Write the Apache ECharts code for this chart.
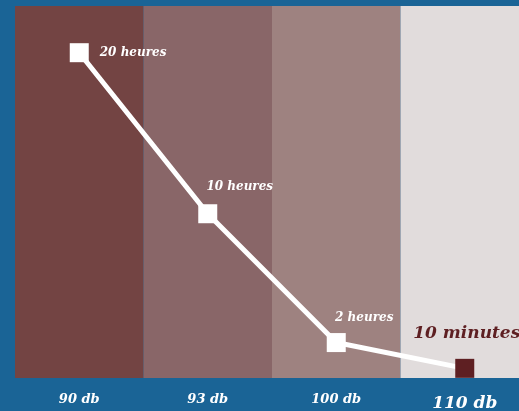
<!DOCTYPE html>
<html><head><meta charset="utf-8">
<script src="https://cdn.jsdelivr.net/npm/echarts@6/dist/echarts.min.js"></script>
<style>html,body{margin:0;padding:0;background:#1a6496;}#c{width:519px;height:411px;}</style>
</head><body><div id="c"></div>
<script>
const categories = ['90 db', '93 db', '100 db', '110 db'];
const hours = [20, 10, 2, 0.4];
const pointLabels = ['20 heures', '10 heures', '2 heures', '10 minutes'];
const bandColors = ['#734443', '#896668', '#9e8280', '#e1dcdc'];

const FONT = '"DejaVu Serif", serif';
const chart = echarts.init(document.getElementById('c'));
const labelPos = [
  {position: 'right', offset: [6, 0]},
  {position: 'top', offset: [32, -6]},
  {position: 'top', offset: [28, -4]},
  {position: 'top', offset: [2, -12]}
];
const data = hours.map((v, i) => {
  const last = i === hours.length - 1;
  return {
    value: v,
    itemStyle: {color: last ? '#5e1f22' : '#ffffff'},
    label: Object.assign({
      show: true,
      formatter: pointLabels[i],
      color: last ? '#5e1f22' : '#ffffff',
      fontFamily: FONT,
      fontStyle: 'italic',
      fontWeight: 'bold',
      fontSize: last ? 17 : 12
    }, labelPos[i])
  };
});
chart.setOption({
  backgroundColor: '#1a6496',
  animation: false,
  grid: {left: 15, width: 514, top: 6, height: 372, outerBoundsMode: 'none', containLabel: false},
  xAxis: {
    type: 'category',
    data: categories,
    boundaryGap: true,
    axisLine: {show: false},
    axisTick: {show: false},
    splitArea: {show: true, interval: 0, areaStyle: {color: bandColors, opacity: 1}},
    axisLabel: {
      margin: 15,
      color: '#ffffff',
      fontFamily: FONT,
      fontStyle: 'italic',
      fontWeight: 'bold',
      fontSize: 13,
      formatter: (v, i) => i === categories.length - 1 ? '{big|' + v + '}' : v,
      rich: {big: {fontSize: 17, fontFamily: FONT, fontStyle: 'italic', fontWeight: 'bold', color: '#ffffff', padding: [2, 0, 0, 0]}}
    }
  },
  yAxis: {
    type: 'value', min: -0.2, max: 22.9, show: false,
    splitLine: {show: false}
  },
  series: [{
    type: 'line',
    data: data,
    symbol: 'rect',
    symbolSize: 19,
    lineStyle: {color: '#ffffff', width: 5},
    clip: true
  }]
});
</script></body></html>
